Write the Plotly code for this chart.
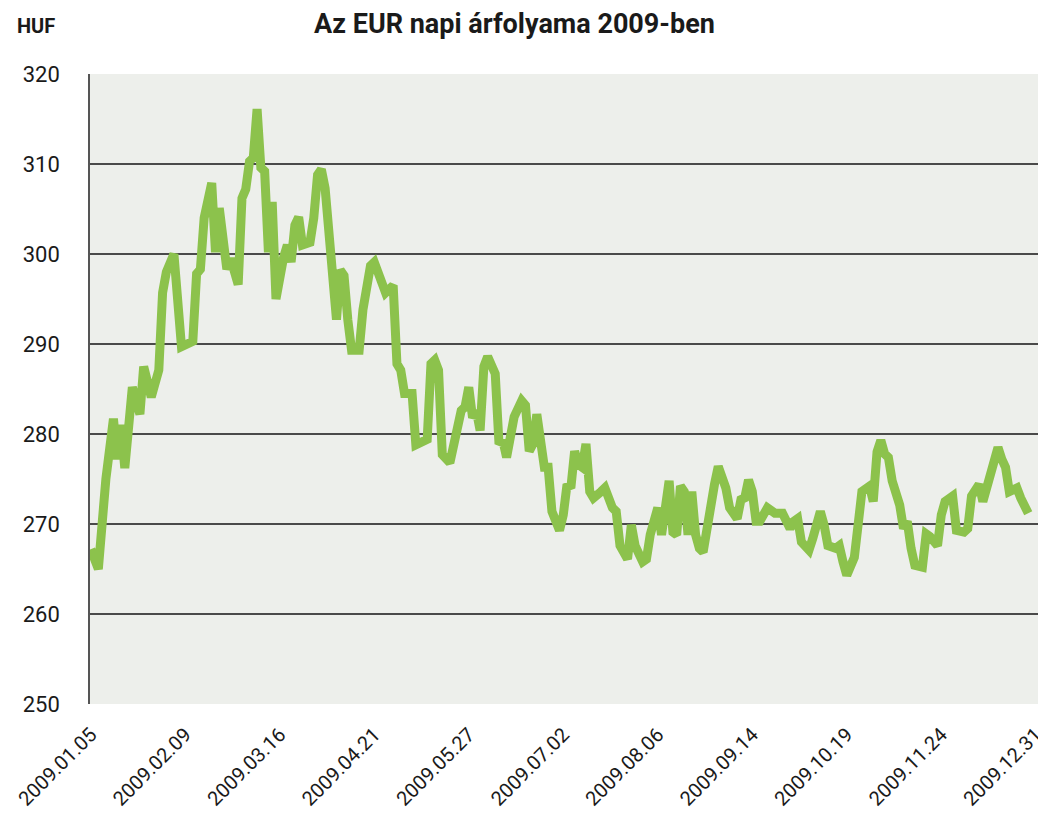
import plotly.graph_objects as go

# trading-day index (0 = 2009.01.05, 250 = 2009.12.31) and EUR/HUF rate
day_index = [0, 2, 4, 6, 7, 8, 9, 11, 13, 14, 16, 18, 19, 20, 22, 24, 27, 28, 29, 30,
             32, 33, 34, 36, 37, 39, 40, 41, 42, 43, 44, 45, 46, 47, 48, 49, 51, 52, 53, 54,
             55, 56, 58, 59, 60, 61, 62, 64, 65, 66, 67, 68, 69, 71, 72, 74, 75, 78, 80, 81,
             82, 83, 85, 86, 88, 89, 90, 91, 92, 93, 95, 96, 98, 99, 100, 101, 102, 103, 104, 105,
             107, 108, 109, 110, 111, 112, 114, 115, 116, 117, 118, 119, 120, 121, 122, 124, 125, 126, 127, 128,
             129, 130, 131, 132, 133, 135, 136, 138, 139, 140, 142, 143, 144, 146, 147, 148, 150, 151, 153, 154,
             155, 156, 157, 158, 159, 160, 161, 162, 163, 165, 166, 167, 168, 169, 171, 172, 173, 174, 175, 176,
             177, 179, 180, 181, 183, 185, 186, 187, 188, 190, 191, 193, 194, 195, 197, 198, 199, 200, 202, 203,
             204, 206, 207, 208, 209, 210, 211, 212, 213, 214, 215, 216, 217, 218, 220, 221, 222, 224, 225, 226,
             228, 229, 231, 232, 233, 235, 236, 238, 239, 240, 241, 242, 243, 245, 246, 248]
eur_huf = [267.2, 265.0, 275.0, 281.7, 277.2, 281.0, 276.2, 285.2, 282.2, 287.5, 284.1, 287.1, 295.7, 298.0, 300.0, 289.7, 290.3, 297.8, 298.3, 304.0,
           307.9, 300.2, 305.1, 298.3, 299.5, 296.6, 306.2, 307.2, 310.3, 310.7, 316.1, 309.6, 309.2, 300.2, 305.8, 295.0, 299.6, 301.0, 299.1, 303.2,
           304.1, 301.0, 301.3, 304.0, 308.8, 309.4, 307.3, 298.3, 292.7, 298.2, 297.6, 292.7, 289.3, 289.3, 293.8, 298.7, 299.1, 295.7, 296.5, 287.8,
           287.1, 284.5, 284.5, 278.8, 279.2, 279.4, 287.8, 288.2, 287.1, 277.7, 276.8, 278.5, 282.6, 283.0, 285.2, 281.8, 282.6, 280.4, 287.5, 288.6,
           286.7, 278.9, 279.3, 277.4, 280.4, 281.9, 283.7, 283.2, 278.1, 278.9, 282.2, 279.3, 276.3, 276.3, 271.4, 269.3, 271.0, 274.4, 274.0, 278.1,
           276.6, 276.3, 278.9, 273.6, 272.9, 273.6, 274.0, 271.8, 271.4, 267.6, 266.1, 269.9, 267.6, 265.8, 266.1, 268.8, 271.8, 268.8, 274.8, 269.1,
           268.8, 274.2, 273.6, 268.8, 273.6, 268.8, 267.3, 266.9, 269.9, 274.4, 276.4, 275.1, 274.0, 271.8, 270.6, 272.7, 272.9, 274.9, 273.6, 270.3,
           270.3, 271.8, 271.6, 271.2, 271.2, 269.5, 270.3, 270.6, 268.0, 267.1, 268.4, 271.4, 269.9, 267.6, 267.3, 267.6, 265.8, 264.3, 266.3, 269.9,
           273.6, 274.2, 272.5, 278.0, 279.3, 277.8, 277.4, 274.8, 273.3, 272.1, 269.5, 270.3, 267.3, 265.4, 265.2, 268.9, 268.6, 267.6, 271.0, 272.5,
           273.1, 269.3, 269.1, 269.5, 273.1, 274.4, 272.5, 275.3, 277.4, 278.5, 277.2, 276.3, 273.6, 274.0, 272.9, 271.2]

tick_positions = [0, 25, 50, 75, 100, 125, 150, 175, 200, 225, 250]
tick_labels = ["2009.01.05", "2009.02.09", "2009.03.16", "2009.04.21", "2009.05.27",
               "2009.07.02", "2009.08.06", "2009.09.14", "2009.10.19", "2009.11.24", "2009.12.31"]
y_ticks = [250, 260, 270, 280, 290, 300, 310, 320]

FONT = "Roboto, Liberation Sans, sans-serif"

fig = go.Figure()
fig.add_trace(go.Scatter(
    x=day_index, y=eur_huf, mode="lines",
    line=dict(color="#8cc24c", width=9, shape="linear"),
    hoverinfo="skip", showlegend=False,
))

# page body has an 8px margin, so the figure is 8px smaller and the plot area
# (page x 90..1046, y 74..696) is placed accordingly
fig.update_layout(
    width=1038, height=810,
    margin=dict(l=82, r=0, t=66, b=114),
    paper_bgcolor="white",
    plot_bgcolor="#edefeb",
    font=dict(family=FONT, color="#1a1a1a"),
    showlegend=False,
)
fig.update_xaxes(
    range=[-0.2, 252.7], automargin=False,
    tickmode="array", tickvals=tick_positions, ticktext=tick_labels,
    tickangle=-45, tickfont=dict(size=20, family=FONT, color="#1a1a1a"),
    showgrid=False, zeroline=False, showline=False, ticks="",
    ticklabelstandoff=14, ticklabeloverflow="allow",
)
fig.update_yaxes(
    range=[250, 320], automargin=False,
    tickmode="array", tickvals=y_ticks,
    tickfont=dict(size=22, family=FONT, color="#1a1a1a"),
    showgrid=True, gridcolor="#4a4a4a", gridwidth=1.5,
    zeroline=False, showline=True, linecolor="#555555", linewidth=1.5,
    ticks="", ticklabelstandoff=24, ticklabeloverflow="allow",
)
fig.add_annotation(
    text="<b>Az EUR napi árfolyama 2009-ben</b>", xref="paper", yref="paper",
    x=(514 - 90) / 956, y=1 + (74 - 25) / 622, xanchor="center", yanchor="middle",
    showarrow=False, font=dict(size=27, family=FONT, color="#1a1a1a"),
)
fig.add_annotation(
    text="<b>HUF</b>", xref="paper", yref="paper",
    x=(15 - 90) / 956, y=1 + (74 - 27) / 622, xanchor="left", yanchor="middle",
    showarrow=False, font=dict(size=20, family=FONT, color="#1a1a1a"),
)

fig.write_html("out.html")
